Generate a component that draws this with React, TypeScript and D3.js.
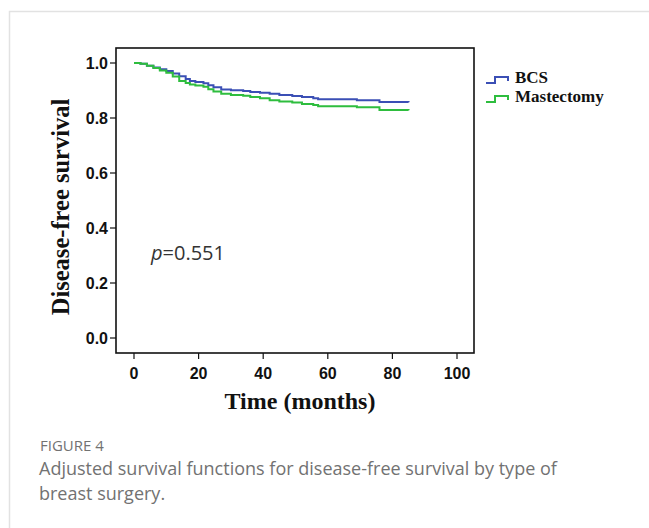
import React from "react";
import * as d3 from "d3";

// Time points (months) and survival estimates
const bcsTime = [0, 2, 4, 6, 8, 10, 12, 14, 16, 17.3, 19, 21.5, 23, 24.6, 27, 30, 33.8, 36, 39, 42, 45, 49, 52, 55.5, 57, 63, 69, 76, 85];
const bcsSurv = [1.0, 0.997, 0.99, 0.984, 0.977, 0.971, 0.962, 0.952, 0.942, 0.935, 0.931, 0.926, 0.919, 0.912, 0.904, 0.901, 0.898, 0.895, 0.892, 0.888, 0.884, 0.88, 0.876, 0.872, 0.868, 0.868, 0.865, 0.858, 0.857];
const mastTime = [0, 2, 4, 6, 8, 10, 12, 14, 16, 17.3, 19, 21.5, 23, 24.6, 27, 30, 33.8, 36, 39, 42, 45, 49, 52, 55.5, 57, 63, 69, 76, 85];
const mastSurv = [1.0, 0.997, 0.99, 0.982, 0.973, 0.965, 0.951, 0.935, 0.927, 0.922, 0.918, 0.914, 0.905, 0.896, 0.888, 0.884, 0.881, 0.876, 0.872, 0.865, 0.86, 0.856, 0.851, 0.847, 0.843, 0.843, 0.839, 0.829, 0.828];

const xTicks = [0, 20, 40, 60, 80, 100];
const yTicks = [0.0, 0.2, 0.4, 0.6, 0.8, 1.0];
const seriesNames = ["BCS", "Mastectomy"];
const seriesColors = ["#3b4fb5", "#2ebd3e"];

const W = 649;
const H = 528;
const box = { left: 116, right: 474, top: 48, bottom: 353 };

export default function App() {
  const x = d3.scaleLinear().domain([0, 100]).range([134, 457]);
  const y = d3.scaleLinear().domain([0, 1]).range([338, 63]);
  const line = d3
    .line<[number, number]>()
    .x((d) => x(d[0]))
    .y((d) => y(d[1]))
    .curve(d3.curveStepAfter);

  const series = [
    bcsTime.map((t, i) => [t, bcsSurv[i]] as [number, number]),
    mastTime.map((t, i) => [t, mastSurv[i]] as [number, number]),
  ];

  const tickFont = "'Liberation Sans', Arial, sans-serif";
  const serif = "'Liberation Serif', 'Times New Roman', serif";

  return (
    <svg
      width={W}
      height={H}
      style={{ position: "absolute", left: 0, top: 0, background: "#fff" }}
    >
      {/* card border */}
      <path d={`M9.5,${H} V11.5 H${W}`} fill="none" stroke="#e2e2e2" strokeWidth={1.5} />

      {/* curves */}
      {series.map((s, i) => (
        <path key={i} d={line(s) || ""} fill="none" stroke={seriesColors[i]} strokeWidth={2} />
      ))}

      {/* plot box */}
      <rect
        x={box.left}
        y={box.top}
        width={box.right - box.left}
        height={box.bottom - box.top}
        fill="none"
        stroke="#111"
        strokeWidth={1.6}
      />

      {/* y ticks */}
      {yTicks.map((t) => (
        <g key={t}>
          <line x1={box.left - 6} x2={box.left} y1={y(t)} y2={y(t)} stroke="#111" strokeWidth={1.2} />
          <text
            x={box.left - 8}
            y={y(t)}
            dy="0.36em"
            textAnchor="end"
            fontFamily={tickFont}
            fontWeight="bold"
            fontSize={16}
            fill="#111"
          >
            {t.toFixed(1)}
          </text>
        </g>
      ))}

      {/* x ticks */}
      {xTicks.map((t) => (
        <g key={t}>
          <line x1={x(t)} x2={x(t)} y1={box.bottom} y2={box.bottom + 6} stroke="#111" strokeWidth={1.2} />
          <text
            x={x(t)}
            y={379}
            textAnchor="middle"
            fontFamily={tickFont}
            fontWeight="bold"
            fontSize={16}
            fill="#111"
          >
            {t}
          </text>
        </g>
      ))}

      {/* axis titles */}
      <text
        transform="translate(69,207) rotate(-90)"
        textAnchor="middle"
        fontFamily={serif}
        fontWeight="bold"
        fontSize={24.5}
        fill="#111"
      >
        Disease-free survival
      </text>
      <text x={300} y={409} textAnchor="middle" fontFamily={serif} fontWeight="bold" fontSize={24} fill="#111">
        Time (months)
      </text>

      {/* legend */}
      {seriesNames.map((n, i) => {
        const by = 83 + i * 19;
        return (
          <g key={n}>
            <path
              d={`M486,${by} H495 V${by - 6} H508 V${by - 2}`}
              fill="none"
              stroke={seriesColors[i]}
              strokeWidth={2}
            />
            <text x={515} y={by} fontFamily={serif} fontWeight="bold" fontSize={17} fill="#111">
              {n}
            </text>
          </g>
        );
      })}

      {/* p value */}
      <text x={151} y={260} fontFamily="'Open Sans', sans-serif" fontSize={20} fill="#333">
        <tspan fontStyle="italic">p</tspan>=0.551
      </text>

      {/* caption */}
      <text x={40} y={451} fontFamily="'Open Sans', sans-serif" fontSize={15} fill="#727272">
        FIGURE 4
      </text>
      <text x={39} y={475} fontFamily="'Open Sans', sans-serif" fontSize={18} fill="#727272">
        Adjusted survival functions for disease-free survival by type of
      </text>
      <text x={39} y={500} fontFamily="'Open Sans', sans-serif" fontSize={18} fill="#727272">
        breast surgery.
      </text>
    </svg>
  );
}
